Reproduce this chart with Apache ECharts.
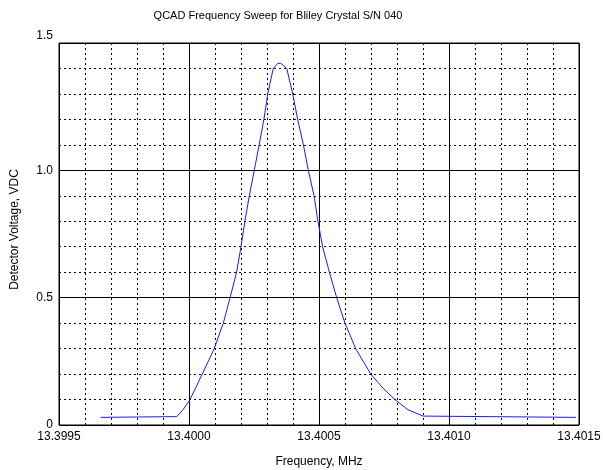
<!DOCTYPE html>
<html>
<head>
<meta charset="utf-8">
<title>QCAD Frequency Sweep</title>
<script src="https://cdn.jsdelivr.net/npm/echarts@6/dist/echarts.min.js"></script>
<style>
  html, body { margin: 0; padding: 0; background: #fff; }
  #chart { width: 603px; height: 470px; }
</style>
</head>
<body>
<div id="chart"></div>
<script>
// Sweep samples: frequency (MHz) and detector output (VDC)
const freqMHz = [
  13.399660, 13.399953, 13.399977, 13.400004, 13.400051, 13.400097,
  13.400132, 13.400158, 13.400183, 13.400200, 13.400215, 13.400232,
  13.400251, 13.400270, 13.400288, 13.400303, 13.400324, 13.400341,
  13.400353, 13.400359, 13.400376, 13.400399, 13.400418, 13.400440,
  13.400459, 13.400481, 13.400496, 13.400514, 13.400540, 13.400568,
  13.400600, 13.400641, 13.400699, 13.400746, 13.400792, 13.400842,
  13.400901, 13.401489
];
const voltsVDC = [
  0.030, 0.033, 0.060, 0.100, 0.200, 0.300,
  0.400, 0.500, 0.600, 0.700, 0.800, 0.900,
  1.000, 1.100, 1.200, 1.300, 1.400, 1.420,
  1.420, 1.420, 1.400, 1.300, 1.200, 1.100,
  1.000, 0.900, 0.800, 0.700, 0.600, 0.500,
  0.400, 0.300, 0.200, 0.145, 0.100, 0.060,
  0.035, 0.030
];

const xTicks = [13.3995, 13.4000, 13.4005, 13.4010, 13.4015];
const yTicks = [0, 0.5, 1.0, 1.5];
const yTickText = ['0', '0.5', '1.0', '1.5'];

const chart = echarts.init(document.getElementById('chart'), null, { renderer: 'canvas' });
const FONT = 'Liberation Sans, Arial, sans-serif';

const points = freqMHz.map((f, i) => [f, voltsVDC[i]]);

const majorLine = { show: true, lineStyle: { color: '#000', width: 1, type: 'solid' } };
const minorLine = { show: true, lineStyle: { color: '#000', width: 1, type: [2, 3] } };

chart.setOption({
  backgroundColor: '#fff',
  animation: false,
  title: {
    text: 'QCAD Frequency Sweep for Bliley Crystal S/N 040',
    left: 273, top: 5, textAlign: 'center',
    textStyle: { fontFamily: FONT, fontSize: 11, fontWeight: 'normal', color: '#000' }
  },
  grid: {
    left: 59, right: 24, top: 43, bottom: 45,
    outerBoundsMode: 'none', containLabel: false,
    show: true, borderColor: '#000', borderWidth: 1, backgroundColor: 'transparent'
  },
  xAxis: {
    type: 'value',
    min: xTicks[0], max: xTicks[xTicks.length - 1], interval: 0.0005,
    name: 'Frequency, MHz', nameLocation: 'middle', nameGap: 31,
    nameTextStyle: { fontFamily: FONT, fontSize: 12, color: '#000' },
    axisLine: { show: false },
    axisTick: { show: false },
    minorTick: { show: false, splitNumber: 5 },
    splitLine: majorLine,
    minorSplitLine: minorLine,
    axisLabel: {
      margin: 6, fontFamily: FONT, fontSize: 12, color: '#000',
      showMinLabel: true, showMaxLabel: true,
      formatter: v => v.toFixed(4)
    }
  },
  yAxis: {
    type: 'value',
    min: yTicks[0], max: yTicks[yTicks.length - 1], interval: 0.5,
    name: 'Detector Voltage, VDC', nameLocation: 'middle', nameGap: 38,
    nameTextStyle: { fontFamily: FONT, fontSize: 12, color: '#000', padding: [0, 0, 0, 9] },
    axisLine: { show: false },
    axisTick: { show: false },
    minorTick: { show: false, splitNumber: 5 },
    splitLine: majorLine,
    minorSplitLine: minorLine,
    axisLabel: {
      margin: 6, fontFamily: FONT, fontSize: 12, color: '#000',
      formatter: v => {
        const i = yTicks.findIndex(t => Math.abs(t - v) < 1e-9);
        const s = i >= 0 ? yTickText[i] : String(v);
        return i === yTicks.length - 1 ? '{top|' + s + '}' : s;
      },
      rich: { top: { fontFamily: FONT, fontSize: 12, color: '#000', padding: [0, 0, 14, 0] } }
    }
  },
  series: [{
    type: 'line',
    data: points,
    showSymbol: false,
    smooth: false,
    lineStyle: { color: '#1a1aff', width: 1 },
    itemStyle: { color: '#1a1aff' }
  }]
});
</script>
</body>
</html>
